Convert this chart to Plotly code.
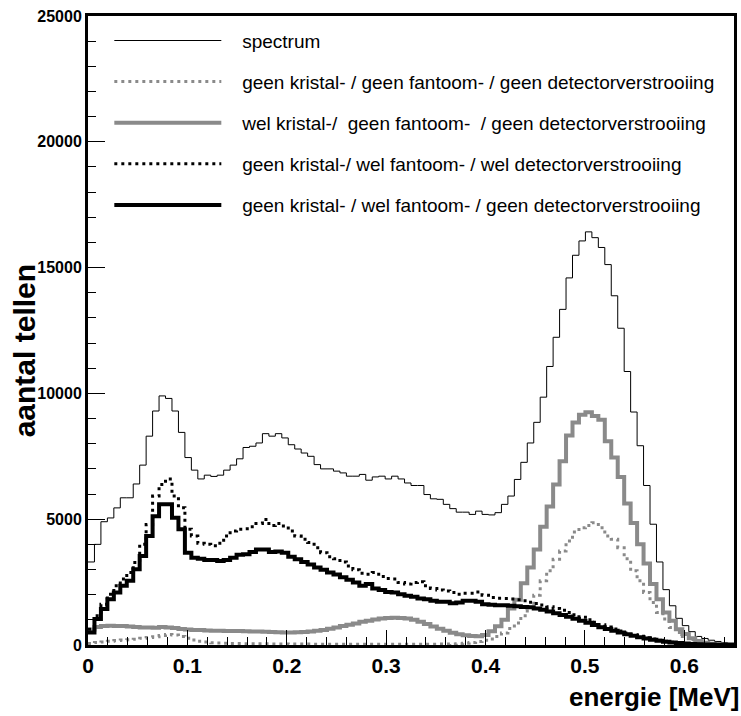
import numpy as np
import plotly.graph_objects as go

# Histogram binning (MeV)
bin_width = 0.0065

spectrum = [3300, 4000, 4900, 5050, 5450, 5850, 5850, 6400, 7150, 8300,
            9300, 9900, 9800, 9300, 8450, 7450, 6950, 6600, 6750, 6700,
            6750, 6950, 7150, 7400, 7850, 7900, 8030, 8400, 8300, 8400,
            8230, 7960, 7790, 7630, 7500, 7170, 7000, 7000, 6910, 6840,
            6710, 6710, 6780, 6550, 6680, 6710, 6600, 6710, 6600, 6440,
            6340, 6340, 5980, 5810, 5790, 5590, 5420, 5280, 5280, 5190,
            5320, 5190, 5170, 5260, 5590, 5920, 6580, 7260, 8030, 8850,
            9850, 11070, 12230, 13340, 14590, 15490, 16060, 16420, 16190, 15800,
            15120, 13880, 12590, 10870, 9260, 7920, 6340, 4800, 3300, 2200,
            1560, 1060, 770, 530, 340, 260, 190, 140, 100, 70]

gray_dotted = [60, 100, 120, 150, 180, 200, 210, 230, 270, 300,
               330, 380, 420, 400, 340, 270, 200, 150, 120, 90,
               80, 70, 60, 55, 50, 50, 45, 45, 40, 40,
               40, 35, 35, 35, 35, 30, 30, 30, 30, 30,
               30, 30, 30, 30, 30, 30, 30, 30, 30, 30,
               30, 30, 30, 30, 35, 35, 40, 50, 70, 100,
               140, 190, 240, 340, 480, 660, 870, 1160, 1490, 1980,
               2550, 2950, 3410, 3740, 4130, 4490, 4660, 4750, 4860, 4660,
               4330, 4200, 3870, 3430, 2950, 2550, 2090, 1690, 1290, 1030,
               700, 500, 340, 210, 120, 70, 40, 20, 10, 5]

gray_solid = [620, 720, 760, 770, 760, 760, 740, 720, 700, 700,
              690, 720, 700, 680, 640, 620, 600, 600, 580, 570,
              570, 560, 560, 560, 550, 540, 540, 530, 520, 510,
              500, 500, 510, 520, 540, 570, 600, 650, 700, 760,
              800, 850, 920, 960, 1010, 1050, 1070, 1080, 1070, 1050,
              1000, 920, 830, 740, 650, 570, 490, 430, 390, 360,
              350, 400, 550, 750, 1000, 1450, 1800, 2450, 3080, 3800,
              4700, 5500, 6380, 7300, 8330, 8840, 9150, 9250, 9100, 8950,
              8100, 7450, 6680, 5620, 4850, 4000, 3240, 2420, 1820, 1290,
              960, 630, 440, 270, 160, 90, 50, 30, 20, 10]

black_dotted = [630, 1160, 1620, 2020, 2350, 2620, 2880, 3280, 4000, 4790,
                5920, 6380, 6600, 5920, 5460, 4600, 4330, 4040, 4000, 3940,
                4040, 4330, 4530, 4600, 4620, 4700, 4830, 4990, 4750, 4830,
                4730, 4530, 4330, 4200, 4070, 3870, 3670, 3510, 3430, 3300,
                3140, 2990, 2850, 2810, 2880, 2720, 2640, 2620, 2480, 2420,
                2480, 2510, 2350, 2250, 2190, 2150, 2090, 2020, 2060, 2060,
                2110, 1980, 1890, 1860, 1850, 1830, 1800, 1760, 1700, 1650,
                1590, 1520, 1450, 1380, 1290, 1200, 1100, 1000, 900, 800,
                720, 640, 560, 480, 410, 350, 290, 240, 190, 150,
                110, 85, 60, 45, 30, 20, 15, 10, 5, 5]

black_solid = [500, 1030, 1430, 1820, 2090, 2350, 2550, 3010, 3540, 4330,
               5120, 5590, 5590, 5060, 4600, 3670, 3470, 3430, 3380, 3380,
               3340, 3380, 3470, 3590, 3610, 3700, 3800, 3800, 3700, 3720,
               3670, 3510, 3410, 3300, 3200, 3080, 2990, 2880, 2800, 2690,
               2590, 2480, 2350, 2420, 2250, 2190, 2110, 2090, 2020, 1960,
               1920, 1850, 1820, 1760, 1720, 1720, 1660, 1690, 1760, 1760,
               1720, 1620, 1600, 1580, 1580, 1560, 1540, 1510, 1500, 1450,
               1400, 1330, 1260, 1190, 1120, 1040, 960, 880, 790, 710,
               640, 570, 500, 430, 370, 310, 260, 210, 170, 130,
               100, 75, 55, 40, 30, 20, 15, 10, 5, 5]

series_names = [
    "spectrum",
    "geen kristal- / geen fantoom- / geen detectorverstrooiing",
    "wel kristal-/\u00a0 geen fantoom-\u00a0 / geen detectorverstrooiing",
    "geen kristal-/ wel fantoom- / wel detectorverstrooiing",
    "geen kristal- / wel fantoom- / geen detectorverstrooiing",
]
series_values = [spectrum, gray_dotted, gray_solid, black_dotted, black_solid]

y_tick_values = [0, 5000, 10000, 15000, 20000, 25000]
x_tick_values = [0, 0.1, 0.2, 0.3, 0.4, 0.5, 0.6]

GRAY = "#8a8a8a"
styles = [
    dict(color="black", width=1),
    dict(color=GRAY, width=3, dash="3px,4px"),
    dict(color=GRAY, width=4),
    dict(color="black", width=3, dash="3px,4px"),
    dict(color="black", width=4),
]

edges = np.arange(len(spectrum) + 1) * bin_width

fig = go.Figure()
for i, (name, vals, st) in enumerate(zip(series_names, series_values, styles)):
    fig.add_trace(go.Scatter(
        x=edges, y=list(vals) + [vals[-1]],
        mode="lines", line_shape="hv", line=st,
        name="\u00a0\u00a0\u00a0" + name, legendgroup=f"g{i}",
    ))

FONT = "Liberation Sans"
fig.update_layout(
    width=741, height=716,
    margin=dict(l=88, r=4, t=16, b=71),
    paper_bgcolor="white", plot_bgcolor="white",
    showlegend=True,
    legend=dict(x=0.033, y=0.991, xanchor="left", yanchor="top",
                bgcolor="rgba(255,255,255,0)", borderwidth=0,
                font=dict(family=FONT, size=19, color="black"),
                itemwidth=107, tracegroupgap=13.4),
    xaxis=dict(range=[0, 0.65], showline=True, linewidth=3, linecolor="black",
               mirror=True, showgrid=False, zeroline=False,
               ticks="inside", ticklen=15, tickwidth=1, tickcolor="black",
               tickvals=x_tick_values, ticktext=[f"{v:g}" for v in x_tick_values],
               minor=dict(ticks="inside", ticklen=8, dtick=0.02, tick0=0,
                          tickcolor="black", tickwidth=1),
               tickfont=dict(family=FONT, size=21, color="black", weight="bold")),
    yaxis=dict(range=[0, 25000], showline=True, linewidth=3, linecolor="black",
               mirror=True, showgrid=False, zeroline=False,
               ticks="inside", ticklen=17, tickwidth=1, tickcolor="black",
               tickvals=y_tick_values, ticktext=[str(v) for v in y_tick_values],
               minor=dict(ticks="inside", ticklen=8, dtick=1000, tick0=0,
                          tickcolor="black", tickwidth=1),
               tickfont=dict(family=FONT, size=16, color="black", weight="bold")),
    annotations=[
        dict(text="aantal tellen", xref="paper", yref="paper",
             x=-0.098, y=0.468, xanchor="center", yanchor="middle",
             textangle=-90, showarrow=False,
             font=dict(family=FONT, size=30, color="black", weight="bold")),
        dict(text="energie [MeV]", xref="paper", yref="paper",
             x=1.012, y=-0.082, xanchor="right", yanchor="middle",
             showarrow=False,
             font=dict(family=FONT, size=26, color="black", weight="bold")),
    ],
)

fig.write_html("out.html")
